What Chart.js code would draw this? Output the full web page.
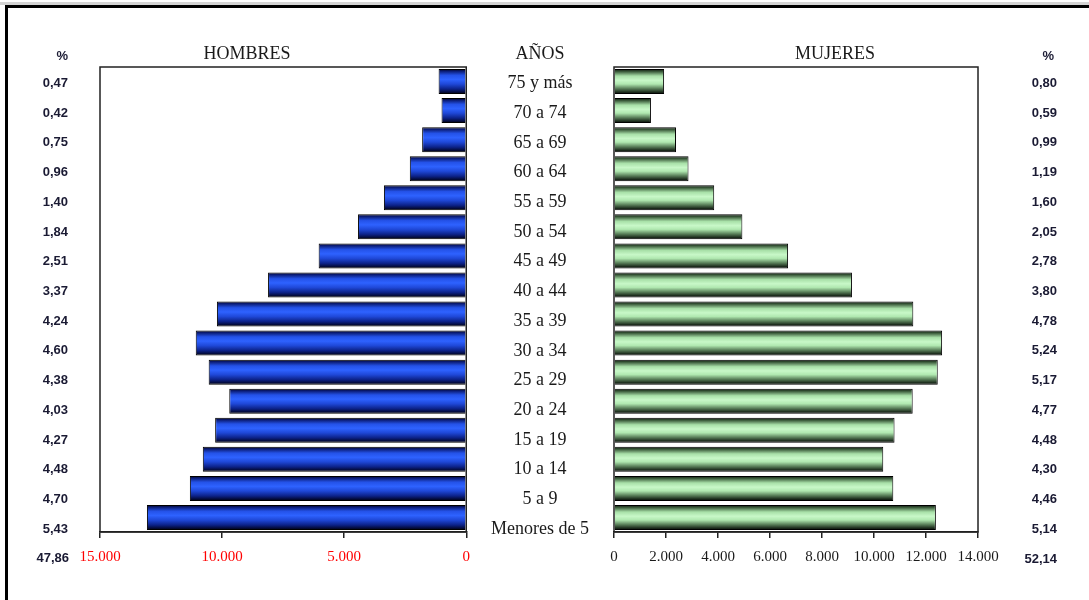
<!DOCTYPE html>
<html>
<head>
<meta charset="utf-8">
<script src="https://cdn.jsdelivr.net/npm/chart.js@4.4.0/dist/chart.umd.min.js"></script>
<style>
    html, body { margin: 0; padding: 0; background: #fff; width: 1089px; height: 600px; overflow: hidden; }
    #topgrey { position: absolute; left: 0; top: 2px; width: 1089px; height: 3px; background: #d4d4d4; }
    #frame { position: absolute; left: 5px; top: 5px; width: 1084px; height: 595px; border-top: 3px solid #000; border-left: 3px solid #000; }
    .txt { position: absolute; font-family: "Liberation Serif", serif; font-size: 18px; color: #1a1a1a; white-space: nowrap; transform: translate(-50%, -50%); }
    .pct { position: absolute; font-family: "Liberation Sans", sans-serif; font-size: 13px; font-weight: bold; color: #1a1a33; white-space: nowrap; transform: translateY(-50%); text-align: right; }
    #cL { position: absolute; left: 0; top: 0; }
    #cR { position: absolute; left: 467px; top: 0; }
</style>
</head>
<body>
<div id="topgrey"></div>
<div id="frame"></div>
<canvas id="cL" width="480" height="600"></canvas>
<canvas id="cR" width="622" height="600"></canvas>

<div class="txt" style="left:247px;top:53px">HOMBRES</div>
<div class="txt" style="left:540px;top:53px">AÑOS</div>
<div class="txt" style="left:835px;top:53px">MUJERES</div>
<div class="pct" style="right:1021px;top:55px">%</div>
<div class="pct" style="right:35px;top:55px">%</div>
<div class="pct" style="right:1020px;top:557px">47,86</div>
<div class="pct" style="right:32px;top:558px">52,14</div>

<script>
// Age groups, top to bottom
const ageLabels = ['75 y más', '70 a 74', '65 a 69', '60 a 64', '55 a 59', '50 a 54', '45 a 49', '40 a 44',
    '35 a 39', '30 a 34', '25 a 29', '20 a 24', '15 a 19', '10 a 14', '5 a 9', 'Menores de 5'];

// Population by sex
const hombres = [1132, 1012, 1806, 2312, 3372, 4432, 6045, 8117, 10212, 11079, 10549, 9706, 10284, 10790, 11320, 13078];
const mujeres = [1927, 1421, 2384, 2866, 3854, 4937, 6696, 9152, 11512, 12620, 12452, 11488, 10790, 10356, 10742, 12380];

// Percent columns
const pctHombres = ['0,47', '0,42', '0,75', '0,96', '1,40', '1,84', '2,51', '3,37', '4,24', '4,60', '4,38', '4,03', '4,27', '4,48', '4,70', '5,43'];
const pctMujeres = ['0,80', '0,59', '0,99', '1,19', '1,60', '2,05', '2,78', '3,80', '4,78', '5,24', '5,17', '4,77', '4,48', '4,30', '4,46', '5,14'];

// Axis ranges
const hombresMax = 15000, hombresStep = 5000;
const mujeresMax = 14000, mujeresStep = 2000;

const BAR_PCT = 0.86;

const blueStops = [[0, '#000018'], [0.08, '#0a1a70'], [0.25, '#2452e8'], [0.42, '#2e62ff'],
    [0.6, '#1f48d8'], [0.8, '#0c2288'], [0.93, '#030a38'], [1, '#000008']];
const greenStops = [[0, '#0a140a'], [0.1, '#3a5a3a'], [0.28, '#a8e0a8'], [0.45, '#c8f8c8'],
    [0.6, '#b0e8b0'], [0.78, '#5a805a'], [0.92, '#1e2e1e'], [1, '#050a05']];

// Thousands with a dot
function fmt(v) {
    return String(v).replace(/\B(?=(\d{3})+(?!\d))/g, '.');
}

// Vertical gradient across each bar's thickness
function barFill(stops) {
    return ctx => {
        const chart = ctx.chart;
        const ys = chart.scales.y;
        if (!ys || !chart.chartArea || ctx.dataIndex === undefined) return stops[3][1];
        const cy = ys.getPixelForValue(ctx.dataIndex);
        const half = ys.height / ageLabels.length * BAR_PCT / 2;
        const g = chart.ctx.createLinearGradient(0, cy - half, 0, cy + half);
        stops.forEach(([o, c]) => g.addColorStop(o, c));
        return g;
    };
}

// Box around the plot area
const framePlugin = {
    id: 'frame',
    afterDatasetsDraw(chart) {
        const { ctx, chartArea: a } = chart;
        ctx.save();
        ctx.strokeStyle = '#222';
        ctx.lineWidth = 1.5;
        ctx.strokeRect(a.left, a.top, a.right - a.left, a.bottom - a.top);
        ctx.restore();
    }
};

// Helper axis for the text columns (one tick per age row)
function rowAxis(position, labels, extra) {
    return Object.assign({
        type: 'linear',
        position,
        reverse: true,
        offset: false,
        bounds: 'data',
        min: -0.556,
        max: 15.1,
        grid: { display: false, drawTicks: false },
        border: { display: false },
        afterBuildTicks: s => { s.ticks = labels.map((_, i) => ({ value: i })); },
        ticks: {
            autoSkip: false,
            color: '#1a1a33',
            font: { family: 'Liberation Sans', size: 13, weight: 'bold' },
            callback: (v, i) => labels[i] ?? ''
        }
    }, extra);
}

function xAxis(max, step, reverse, color) {
    return {
        type: 'linear',
        position: 'bottom',
        reverse,
        min: 0,
        max,
        ticks: {
            stepSize: step,
            maxRotation: 0,
            color,
            padding: 10,
            font: { family: 'Liberation Serif', size: 15 },
            callback: fmt
        },
        grid: { drawOnChartArea: false, drawTicks: true, tickLength: 6, color: '#222', lineWidth: 1.5 },
        border: { display: true, color: '#222', width: 1.5 },
        afterFit: s => { s.height = 40; }
    };
}

// HOMBRES
const leftAxis = rowAxis('left', pctHombres, { afterFit: s => { s.width = 100; } });
leftAxis.ticks.padding = 32;

new Chart(document.getElementById('cL'), {
    type: 'bar',
    data: {
        labels: ageLabels,
        datasets: [{
            data: hombres,
            backgroundColor: barFill(blueStops),
            borderColor: '#000',
            borderWidth: 1,
            barPercentage: BAR_PCT,
            categoryPercentage: 1
        }]
    },
    options: {
        indexAxis: 'y',
        responsive: false,
        animation: false,
        layout: { padding: { top: 67, right: 13, bottom: 28, left: 0 } },
        plugins: { legend: { display: false }, tooltip: { enabled: false } },
        scales: {
            x: xAxis(hombresMax, hombresStep, true, '#ff0000'),
            y: { display: false },
            yp: leftAxis
        }
    },
    plugins: [framePlugin]
});

// MUJERES
const ageAxis = rowAxis('left', ageLabels, { afterFit: s => { s.width = 147; } });
ageAxis.ticks.crossAlign = 'center';
ageAxis.ticks.padding = 25;
ageAxis.ticks.color = '#1a1a1a';
ageAxis.ticks.font = { family: 'Liberation Serif', size: 18 };

const rightAxis = rowAxis('right', pctMujeres, { afterFit: s => { s.width = 79; } });
rightAxis.ticks.crossAlign = 'far';

new Chart(document.getElementById('cR'), {
    type: 'bar',
    data: {
        labels: ageLabels,
        datasets: [{
            data: mujeres,
            backgroundColor: barFill(greenStops),
            borderColor: '#000',
            borderWidth: 1,
            barPercentage: BAR_PCT,
            categoryPercentage: 1
        }]
    },
    options: {
        indexAxis: 'y',
        responsive: false,
        animation: false,
        layout: { padding: { top: 67, right: 32, bottom: 28, left: 0 } },
        plugins: { legend: { display: false }, tooltip: { enabled: false } },
        scales: {
            x: xAxis(mujeresMax, mujeresStep, false, '#1a1a1a'),
            y: { display: false },
            ya: ageAxis,
            yp: rightAxis
        }
    },
    plugins: [framePlugin]
});
</script>
</body>
</html>
